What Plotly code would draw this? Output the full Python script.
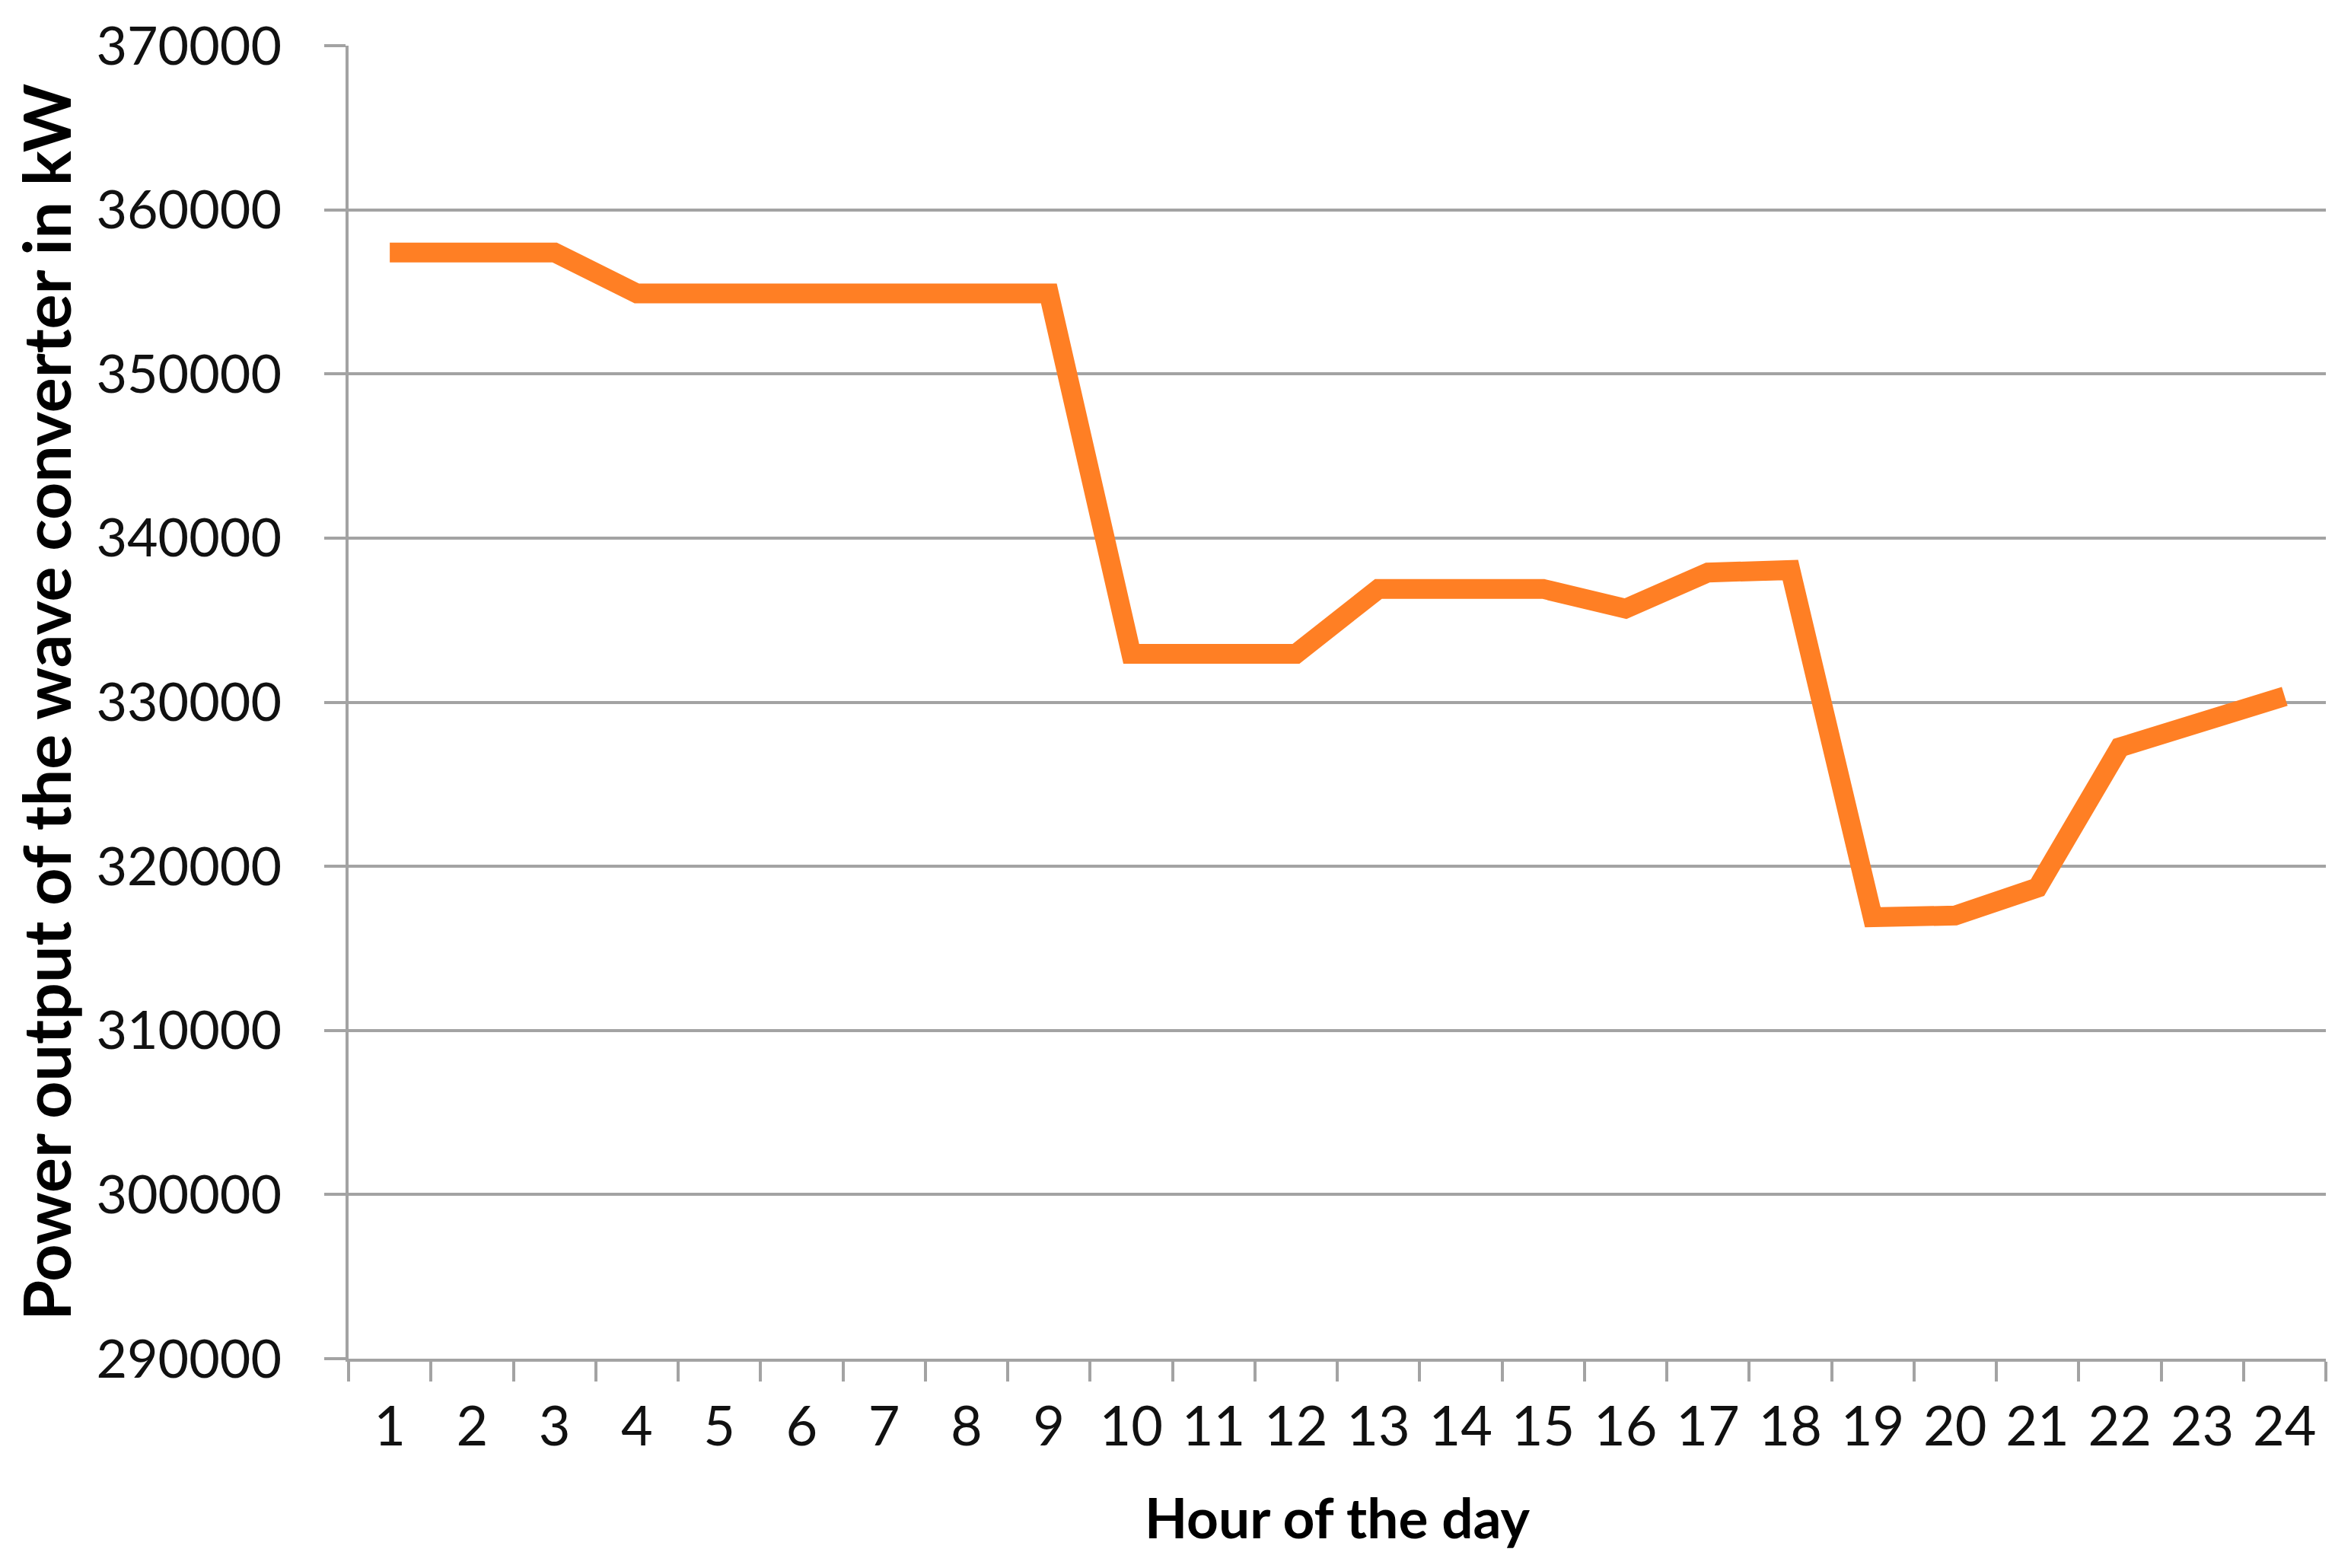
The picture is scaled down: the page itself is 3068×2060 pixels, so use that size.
import plotly.graph_objects as go

hours = [str(h) for h in range(1, 25)]
power_kw = [357400, 357400, 357400, 354900, 354900, 354900, 354900, 354900, 354900,
            332950, 332950, 332950, 336900, 336900, 336900, 335700, 337900, 338050,
            316900, 317000, 318700, 327250, 328800, 330350]
y_ticks = [290000, 300000, 310000, 320000, 330000, 340000, 350000, 360000, 370000]

FONT = "Lato"
GRID = "#A3A3A3"

fig = go.Figure()
fig.add_trace(go.Scatter(
    x=hours, y=power_kw, mode="lines",
    line=dict(color="#FF7F24", width=26),
    showlegend=False, hoverinfo="skip",
))

fig.update_layout(
    width=3068, height=2060,
    margin=dict(l=450, r=20, t=52, b=283),
    paper_bgcolor="white", plot_bgcolor="white",
    font=dict(family=FONT, color="#1a1a1a", size=72),
    xaxis=dict(
        type="category", tickson="boundaries", range=[-0.5, 23.5],
        ticks="outside", ticklen=26, tickwidth=4, tickcolor=GRID,
        showline=True, linecolor=GRID, linewidth=4,
        showgrid=False, zeroline=False,
        tickfont=dict(family=FONT, size=72, color="#111"),
        ticklabelstandoff=24,
        title=dict(text="<b>Hour of the day</b>", font=dict(family=FONT, size=73, color="#000"),
                   standoff=58),
        automargin=False,
    ),
    yaxis=dict(
        range=[290000, 370000], tickvals=y_ticks, tickformat="d",
        ticks="outside", ticklen=28, tickwidth=4, tickcolor=GRID,
        showline=True, linecolor=GRID, linewidth=4,
        showgrid=True, gridcolor=GRID, gridwidth=4,
        zeroline=False,
        tickfont=dict(family=FONT, size=70, color="#111"),
        ticklabelstandoff=42,
        title=dict(text="<b>Power output of the wave converter in kW</b>",
                   font=dict(family=FONT, size=86, color="#000"), standoff=6),
        automargin=False,
    ),
)

fig.write_html("out.html")
